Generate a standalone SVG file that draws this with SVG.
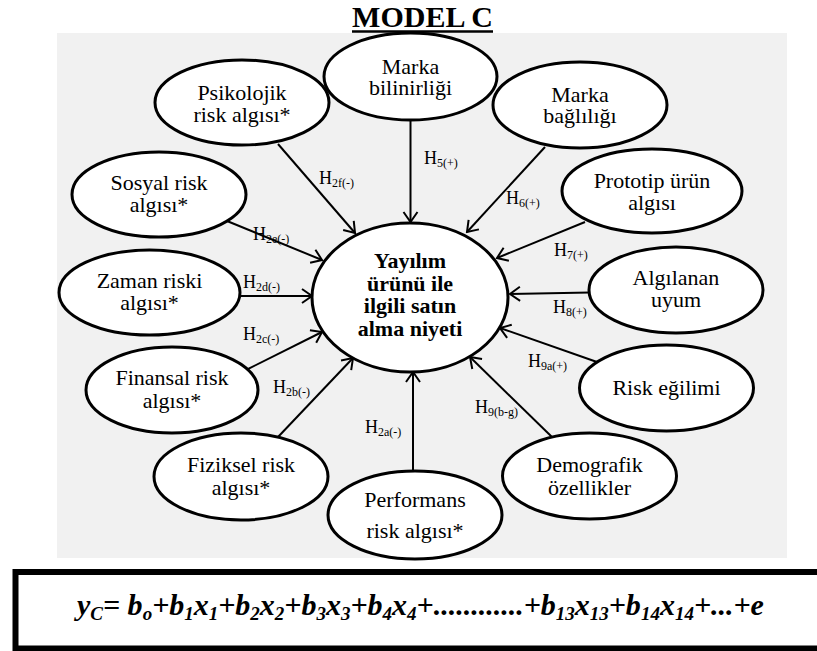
<svg xmlns="http://www.w3.org/2000/svg" width="817" height="651" viewBox="0 0 817 651">
<style>
text{font-family:'Liberation Serif','DejaVu Serif','Noto Serif',serif}
.n ellipse{fill:#fff;stroke:#000;stroke-width:3}
.t{font-size:22px;text-anchor:middle;fill:#000}
.b{font-weight:bold}
.c line{stroke:#000;stroke-width:2;marker-end:url(#ah)}
.h{font-size:18px;fill:#000}
.hs{font-size:12px}
.f{font-size:30px;font-weight:bold;font-style:italic;fill:#000}
.s{font-size:19px}
</style>
<defs>
<marker id="ah" markerUnits="userSpaceOnUse" viewBox="-14 -9 16 18" refX="0" refY="0" markerWidth="16" markerHeight="18" orient="auto">
<path d="M-10,-7 L0,0 L-10,7" fill="none" stroke="#000" stroke-width="2"/>
</marker>
</defs>
<rect width="817" height="651" fill="#fff"/>
<g id="title">
<text x="422.5" y="27" class="t b" font-family="Liberation Serif, serif" style="font-size:30px">MODEL C</text>
<line x1="352" y1="31.5" x2="493" y2="31.5" stroke="#000" stroke-width="2.5"/>
</g>
<rect id="background" x="57" y="33" width="730" height="525" fill="#f1f1f1"/>
<g id="connectors" class="c">
<line x1="278" y1="144" x2="355" y2="233"/>
<line x1="410.5" y1="120" x2="410.5" y2="222"/>
<line x1="545" y1="147" x2="467" y2="232"/>
<line x1="585" y1="222" x2="497" y2="258"/>
<line x1="590" y1="292.5" x2="510" y2="294"/>
<line x1="597" y1="362" x2="500" y2="328"/>
<line x1="552" y1="437" x2="470" y2="357"/>
<line x1="413" y1="472" x2="413" y2="372"/>
<line x1="278" y1="437" x2="353" y2="358"/>
<line x1="242" y1="372" x2="322" y2="332"/>
<line x1="240" y1="296" x2="312" y2="296"/>
<line x1="227" y1="221" x2="322" y2="260"/>
</g>
<g id="labels">
<text class="h" x="319" y="184">H<tspan class="hs" dy="3">2f(-)</tspan></text>
<text class="h" x="424" y="164">H<tspan class="hs" dy="3">5(+)</tspan></text>
<text class="h" x="506" y="204">H<tspan class="hs" dy="3">6(+)</tspan></text>
<text class="h" x="554" y="256">H<tspan class="hs" dy="3">7(+)</tspan></text>
<text class="h" x="553" y="313">H<tspan class="hs" dy="3">8(+)</tspan></text>
<text class="h" x="528" y="367">H<tspan class="hs" dy="3">9a(+)</tspan></text>
<text class="h" x="475" y="413">H<tspan class="hs" dy="3">9(b-g)</tspan></text>
<text class="h" x="365" y="433">H<tspan class="hs" dy="3">2a(-)</tspan></text>
<text class="h" x="273" y="393">H<tspan class="hs" dy="3">2b(-)</tspan></text>
<text class="h" x="243" y="340">H<tspan class="hs" dy="3">2c(-)</tspan></text>
<text class="h" x="243" y="288">H<tspan class="hs" dy="3">2d(-)</tspan></text>
<text class="h" x="253" y="240">H<tspan class="hs" dy="3">2e(-)</tspan></text>
</g>
<g id="center" class="n">
<ellipse cx="410" cy="297.5" rx="98" ry="74.5"/>
<text class="t b" x="410" y="268">Yayılım</text>
<text class="t b" x="410" y="290.5">ürünü ile</text>
<text class="t b" x="410" y="313">ilgili satın</text>
<text class="t b" x="410" y="336">alma niyeti</text>
</g>
<g id="psikolojik" class="n">
<ellipse cx="242" cy="102.5" rx="87" ry="42.5"/>
<text class="t" x="242" y="100">Psikolojik</text>
<text class="t" x="242" y="122">risk algısı*</text>
</g>
<g id="bilinirlik" class="n">
<ellipse cx="410.5" cy="76.5" rx="86.5" ry="43.5"/>
<text class="t" x="410.5" y="74">Marka</text>
<text class="t" x="410.5" y="95">bilinirliği</text>
</g>
<g id="baglilik" class="n">
<ellipse cx="580" cy="105" rx="87" ry="43"/>
<text class="t" x="580" y="102">Marka</text>
<text class="t" x="580" y="123">bağlılığı</text>
</g>
<g id="prototip" class="n">
<ellipse cx="652" cy="191" rx="90" ry="42"/>
<text class="t" x="652" y="188">Prototip ürün</text>
<text class="t" x="652" y="210">algısı</text>
</g>
<g id="algilanan" class="n">
<ellipse cx="676" cy="290" rx="87" ry="43"/>
<text class="t" x="676" y="285">Algılanan</text>
<text class="t" x="676" y="307">uyum</text>
</g>
<g id="risk" class="n">
<ellipse cx="666.5" cy="388" rx="87" ry="43"/>
<text class="t" x="666.5" y="395">Risk eğilimi</text>
</g>
<g id="demografik" class="n">
<ellipse cx="589.5" cy="476" rx="87" ry="43"/>
<text class="t" x="589.5" y="472">Demografik</text>
<text class="t" x="589.5" y="495">özellikler</text>
</g>
<g id="performans" class="n">
<ellipse cx="415" cy="515" rx="87" ry="44"/>
<text class="t" x="415" y="507">Performans</text>
<text class="t" x="415" y="538">risk algısı*</text>
</g>
<g id="fiziksel" class="n">
<ellipse cx="241" cy="476.5" rx="87" ry="43.5"/>
<text class="t" x="241" y="472">Fiziksel risk</text>
<text class="t" x="241" y="495">algısı*</text>
</g>
<g id="finansal" class="n">
<ellipse cx="172" cy="390" rx="86" ry="43"/>
<text class="t" x="172" y="385">Finansal risk</text>
<text class="t" x="172" y="408">algısı*</text>
</g>
<g id="zaman" class="n">
<ellipse cx="149.5" cy="292.5" rx="90.5" ry="42.5"/>
<text class="t" x="149.5" y="288">Zaman riski</text>
<text class="t" x="149.5" y="310">algısı*</text>
</g>
<g id="sosyal" class="n">
<ellipse cx="159" cy="194.5" rx="87" ry="42.5"/>
<text class="t" x="159" y="190">Sosyal risk</text>
<text class="t" x="159" y="212">algısı*</text>
</g>
<g id="formula">
<rect x="15.5" y="572" width="820" height="76.5" fill="#fff" stroke="#000" stroke-width="6"/>
<text class="f" x="77" y="615">y<tspan class="s" dy="5">C</tspan><tspan dy="-5">= b</tspan><tspan class="s" dy="5">o</tspan><tspan dy="-5">+b</tspan><tspan class="s" dy="5">1</tspan><tspan dy="-5">x</tspan><tspan class="s" dy="5">1</tspan><tspan dy="-5">+b</tspan><tspan class="s" dy="5">2</tspan><tspan dy="-5">x</tspan><tspan class="s" dy="5">2</tspan><tspan dy="-5">+b</tspan><tspan class="s" dy="5">3</tspan><tspan dy="-5">x</tspan><tspan class="s" dy="5">3</tspan><tspan dy="-5">+b</tspan><tspan class="s" dy="5">4</tspan><tspan dy="-5">x</tspan><tspan class="s" dy="5">4</tspan><tspan dy="-5">+............+b</tspan><tspan class="s" dy="5">13</tspan><tspan dy="-5">x</tspan><tspan class="s" dy="5">13</tspan><tspan dy="-5">+b</tspan><tspan class="s" dy="5">14</tspan><tspan dy="-5">x</tspan><tspan class="s" dy="5">14</tspan><tspan dy="-5">+...+e</tspan></text>
</g>
</svg>
